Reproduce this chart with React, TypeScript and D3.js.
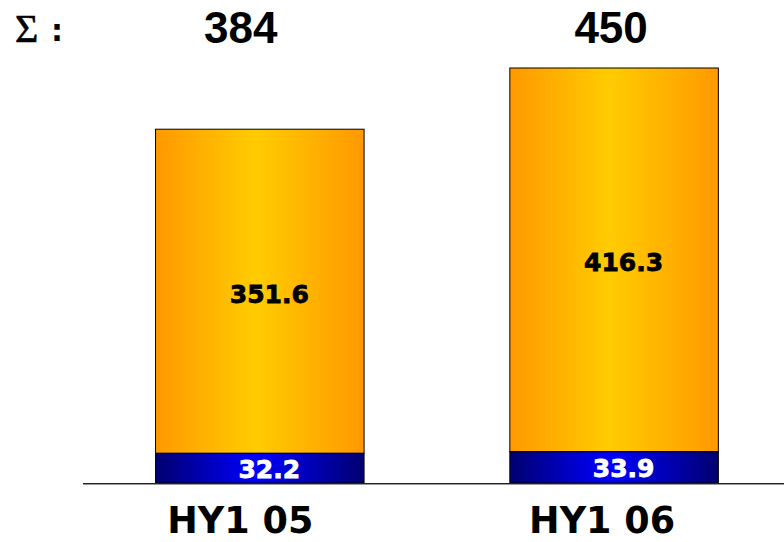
import React from "react";
import * as d3 from "d3";

// Half-year results, stacked by segment
const periods = ["HY1 05", "HY1 06"];
const baseSegment = [32.2, 33.9];
const mainSegment = [351.6, 416.3];

const W = 784;
const H = 542;

export default function App() {
  const totals = periods.map((_, i) => baseSegment[i] + mainSegment[i]);

  const x = d3
    .scaleBand<string>()
    .domain(periods)
    .range([83, 784])
    .paddingInner(0.4114)
    .paddingOuter(0.195)
    .align(0.525);

  const y = d3
    .scaleLinear()
    .domain([0, d3.max(totals) as number])
    .range([483, 68]);

  const fmt1 = d3.format(".1f");
  const fmt0 = d3.format(".0f");
  const bw = x.bandwidth();

  // small per-column nudges for the header and category text
  const totalNudge = [-19, -3];
  const catNudge = [-19.5, -12];

  const valueFont = {
    fontFamily: "'DejaVu Sans', sans-serif",
    fontWeight: "bold" as const,
    fontSize: 25,
    strokeWidth: 0.8,
    textAnchor: "middle" as const,
  };

  return (
    <svg
      width={W}
      height={H}
      style={{ position: "absolute", left: 0, top: 0, background: "#fff" }}
    >
      <defs>
        <linearGradient id="gOrange" x1="0" x2="1" y1="0" y2="0">
          <stop offset="0%" stopColor="#FF9900" />
          <stop offset="48%" stopColor="#FFCC00" />
          <stop offset="100%" stopColor="#FF9900" />
        </linearGradient>
        <linearGradient id="gBlue" x1="0" x2="1" y1="0" y2="0">
          <stop offset="0%" stopColor="#000070" />
          <stop offset="48%" stopColor="#0000FF" />
          <stop offset="100%" stopColor="#000070" />
        </linearGradient>
      </defs>

      <text
        x={15}
        y={42}
        fontFamily="'Liberation Serif', serif"
        fontSize={40}
        fill="#000"
        stroke="#000"
        strokeWidth={0.6}
      >
        Σ
      </text>
      <text
        x={51}
        y={41}
        fontFamily="'DejaVu Sans', sans-serif"
        fontWeight="bold"
        fontSize={30}
        fill="#000"
      >
        :
      </text>

      {periods.map((p, i) => {
        const x0 = x(p) as number;
        const cx = x0 + bw / 2;
        const yBaseTop = y(baseSegment[i]);
        const yTop = y(totals[i]);
        const midMain = (yTop + yBaseTop) / 2;
        const midBase = (y(0) + yBaseTop) / 2;
        return (
          <g key={p}>
            <rect
              x={x0}
              y={yTop}
              width={bw}
              height={yBaseTop - yTop}
              fill="url(#gOrange)"
              stroke="#000"
              strokeWidth={1}
            />
            <rect
              x={x0}
              y={yBaseTop}
              width={bw}
              height={y(0) - yBaseTop}
              fill="url(#gBlue)"
              stroke="#000"
              strokeWidth={1}
            />
            <text x={cx + 9.5} y={midMain + 11.5} fill="#000" stroke="#000" {...valueFont}>
              {fmt1(mainSegment[i])}
            </text>
            <text x={cx + 9.5} y={midBase + 10} fill="#fff" stroke="#fff" {...valueFont}>
              {fmt1(baseSegment[i])}
            </text>
            <text
              x={cx + totalNudge[i]}
              y={43}
              textAnchor="middle"
              fontFamily="'Liberation Sans', Arial, sans-serif"
              fontWeight="bold"
              fontSize={44}
              fill="#000"
            >
              {fmt0(totals[i])}
            </text>
            <text
              x={cx + catNudge[i]}
              y={533}
              textAnchor="middle"
              fontFamily="'DejaVu Sans', sans-serif"
              fontWeight="bold"
              fontSize={38}
              textLength={146}
              lengthAdjust="spacingAndGlyphs"
              fill="#000"
            >
              {p}
            </text>
          </g>
        );
      })}

      <line x1={83} x2={784} y1={484.5} y2={484.5} stroke="#999" strokeWidth={1} />
      <line x1={83} x2={784} y1={483.5} y2={483.5} stroke="#222" strokeWidth={1} />
    </svg>
  );
}
